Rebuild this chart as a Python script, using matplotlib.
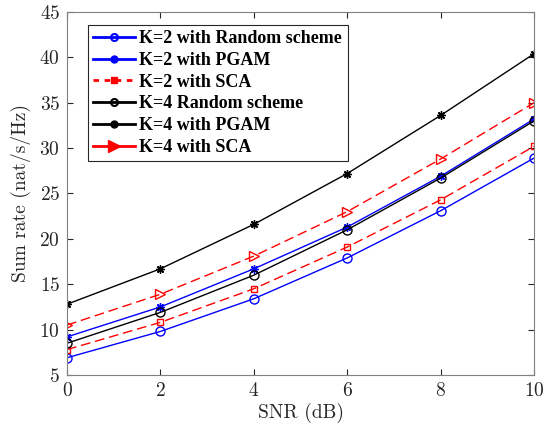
import matplotlib.pyplot as plt
from matplotlib.lines import Line2D

plt.rcParams['font.family'] = ['cmr10', 'DejaVu Serif']
plt.rcParams['axes.formatter.use_mathtext'] = True

snr = [0, 2, 4, 6, 8, 10]
k2_random = [6.9, 9.8, 13.4, 17.9, 23.1, 28.9]
k2_pgam = [9.2, 12.5, 16.7, 21.3, 26.9, 33.2]
k2_sca = [7.8, 10.8, 14.5, 19.1, 24.3, 30.2]
k4_random = [8.5, 11.9, 16.0, 21.0, 26.7, 33.0]
k4_pgam = [12.8, 16.7, 21.6, 27.2, 33.6, 40.4]
k4_sca = [10.5, 13.9, 18.1, 23.0, 28.8, 35.0]

labels = ['K=2 with Random scheme', 'K=2 with PGAM', 'K=2 with SCA',
          'K=4 Random scheme', 'K=4 with PGAM', 'K=4 with SCA']

fig = plt.figure(figsize=(5.49, 4.28), dpi=100)
ax = fig.add_axes([67/549, 1-375/428, 467/549, 363/428])

star = (8, 2, 0)
dash = (0, (7, 3.5))
ax.plot(snr, k2_random, color='blue', marker='o', mfc='none', ms=6.5, lw=1)
ax.plot(snr, k2_pgam, color='blue', marker=star, ms=6, mew=1, lw=1)
ax.plot(snr, k2_sca, color='red', ls=dash, marker='s', mfc='none', ms=4.5, lw=1)
ax.plot(snr, k4_random, color='black', marker='o', mfc='none', ms=6.5, lw=1)
ax.plot(snr, k4_pgam, color='black', marker=star, ms=6, mew=1, lw=1)
ax.plot(snr, k4_sca, color='red', ls=dash, marker='>', mfc='none', ms=7.5, lw=1)

ax.set_xlim(0, 10)
ax.set_ylim(5, 45)
ax.set_xticks(snr)
ax.set_yticks(range(5, 46, 5))
ax.tick_params(direction='in', top=True, right=True, labelsize=14, colors='#262626',
               length=4, pad=5)
for s in ax.spines.values():
    s.set_color('#808080')
    s.set_linewidth(0.8)
ax.set_xlabel('SNR (dB)', fontsize=14, color='#262626', labelpad=2)
ax.set_ylabel('Sum rate (nat/s/Hz)', fontsize=14, color='#262626', labelpad=6)

handles = [
    Line2D([], [], color='blue', marker='o', mfc='none', mew=1.5, ms=5, lw=2),
    Line2D([], [], color='blue', marker='o', ms=5, lw=2),
    Line2D([], [], color='red', ls=(0, (2, 2)), marker='s', ms=4.5, lw=2),
    Line2D([], [], color='black', marker='o', mfc='none', mew=1.5, ms=5, lw=2),
    Line2D([], [], color='black', marker='o', ms=5, lw=2),
    Line2D([], [], color='red', marker='>', ms=9, lw=2),
]
leg = ax.legend(handles, labels, loc='upper left', bbox_to_anchor=(21/467, 350/363),
                prop={'family': 'Liberation Serif', 'weight': 'bold', 'size': 13},
                fancybox=False, edgecolor='#262626', framealpha=1,
                handlelength=2.3, borderaxespad=0, labelspacing=0.26,
                handletextpad=0.25, borderpad=0.3)
leg.get_frame().set_linewidth(0.8)

fig.savefig('out.png', dpi=100)
